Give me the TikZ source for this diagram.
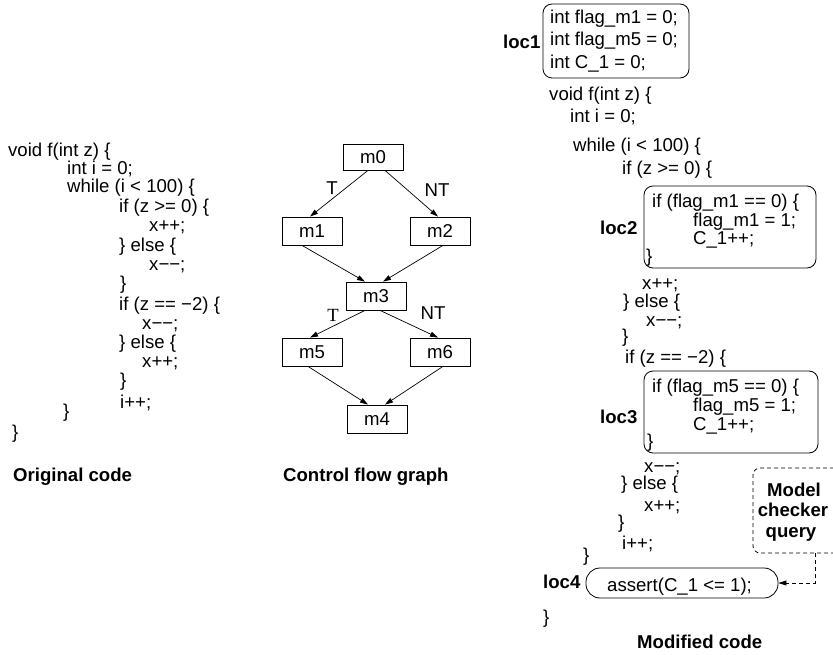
\documentclass[tikz,border=0pt]{standalone}
\usepackage{fontspec}
\setmainfont{Liberation Sans}
\newfontfamily\serifT{Liberation Serif}
\usetikzlibrary{arrows.meta}
\begin{document}
\begin{tikzpicture}[x=1pt,y=-1pt,
  fs/.style={font=\fontsize{18.6}{19}\selectfont},
  code/.style={anchor=base west, inner sep=0pt, fs},
  lbl/.style={anchor=base west, inner sep=0pt, font=\fontsize{18.6}{19}\selectfont\bfseries},
  mcq/.style={anchor=base, inner sep=0pt, font=\fontsize{18.6}{19}\selectfont\bfseries},
  blk/.style={draw, line width=0.8pt, minimum width=60pt, minimum height=28pt, inner sep=0pt, fs},
  elab/.style={inner sep=0pt, fs},
  flow/.style={line width=0.7pt, -{Triangle[length=8pt,width=5pt]}},
  rbox/.style={draw, line width=0.8pt, rounded corners=9pt, inner sep=0pt},
]
\useasboundingbox (0,0) rectangle (833,655);
\clip (0,0) rectangle (833,655);

% ---------- Original code ----------
\node[code] (o1) at (8,157) {void f(int z) \{};
\node[code] (o2) at (67,175) {int i = 0;};
\node[code] (o3) at (67,193) {while (i < 100) \{};
\node[code] (o4) at (119,213) {if (z >= 0) \{};
\node[code] (o5) at (149,232) {x++;};
\node[code] (o6) at (119,252) {\} else \{};
\node[code] (o7) at (149,271) {x−−;};
\node[code] (o8) at (120,290) {\}};
\node[code] (o9) at (119,310) {if (z == −2) \{};
\node[code] (o10) at (142,329) {x−−;};
\node[code] (o11) at (119,348) {\} else \{};
\node[code] (o12) at (142,367) {x++;};
\node[code] (o13) at (120,386) {\}};
\node[code] (o14) at (120,408) {i++;};
\node[code] (o15) at (63,417) {\}};
\node[code] (o16) at (12,438) {\}};
\node[lbl] (lo) at (13,481) {Original code};

% ---------- Control flow graph ----------
\node[blk, minimum height=26pt] (m0) at (373,157) {m0};
\node[blk] (m1) at (312,231) {m1};
\node[blk] (m2) at (440,231) {m2};
\node[blk] (m3) at (376,296) {m3};
\node[blk] (m5) at (312,352) {m5};
\node[blk] (m6) at (440,352) {m6};
\node[blk] (m4) at (377,419) {m4};
\draw[flow] ([xshift=-5pt]m0.south) -- ([xshift=-2pt]m1.north);
\draw[flow] ([xshift=12pt]m0.south) -- ([xshift=-2pt]m2.north);
\draw[flow] ([xshift=-10pt]m1.south) -- ([xshift=-11pt]m3.north);
\draw[flow] ([xshift=3pt]m2.south) -- ([xshift=7pt]m3.north);
\draw[flow] ([xshift=-11pt]m3.south) -- ([xshift=-2pt]m5.north);
\draw[flow] ([xshift=4pt]m3.south) -- ([xshift=-2pt]m6.north);
\draw[flow] ([xshift=-4pt]m5.south) -- ([xshift=-9pt]m4.north);
\draw[flow] ([xshift=3pt]m6.south) -- ([xshift=8pt]m4.north);
\node[elab] (t1) at (332,188) {T};
\node[elab] (nt1) at (437,190) {NT};
\node[inner sep=0pt, font=\serifT\fontsize{18.6}{19}\selectfont] (t2) at (333,315) {T};
\node[elab] (nt2) at (433,313) {NT};
\node[lbl] (lc) at (283,481) {Control flow graph};

% ---------- Modified code ----------
\node[rbox, minimum width=146pt, minimum height=74pt] (b1) at (616,41) {};
\node[lbl] (l1) at (503,49) {loc1};
\node[code] (r1) at (550,24) {int flag\_m1 = 0;};
\node[code] (r2) at (550,46) {int flag\_m5 = 0;};
\node[code] (r3) at (550,69) {int C\_1 = 0;};
\node[code] (r4) at (549,101) {void f(int z) \{};
\node[code] (r5) at (570,123) {int i = 0;};
\node[code] (r6) at (573,152) {while (i < 100) \{};
\node[code] (r7) at (622,175) {if (z >= 0) \{};

\node[rbox, minimum width=172pt, minimum height=82pt] (b2) at (730,227) {};
\node[lbl] (l2) at (600,235) {loc2};
\node[code] (r8) at (652,208) {if (flag\_m1 == 0) \{};
\node[code] (r9) at (693,227) {flag\_m1 = 1;};
\node[code] (r10) at (693,245) {C\_1++;};
\node[code] (r11) at (646,262) {\}};
\node[code] (r12) at (642,290) {x++;};
\node[code] (r13) at (623,308) {\} else \{};
\node[code] (r14) at (646,326) {x−−;};
\node[code] (r15) at (622,342) {\}};
\node[code] (r16) at (625,363) {if (z == −2) \{};

\node[rbox, minimum width=174pt, minimum height=82pt] (b3) at (731,412) {};
\node[lbl] (l3) at (600,423) {loc3};
\node[code] (r17) at (652,392) {if (flag\_m5 == 0) \{};
\node[code] (r18) at (693,411) {flag\_m5 = 1;};
\node[code] (r19) at (693,430) {C\_1++;};
\node[code] (r20) at (647,447) {\}};
\node[code] (r21) at (644,472) {x−−;};
\node[code] (r22) at (621,489) {\} else \{};
\node[code] (r23) at (644,511) {x++;};
\node[code] (r24) at (618,528) {\}};
\node[code] (r25) at (622,549) {i++;};
\node[code] (r26) at (583,561) {\}};

\node[draw, line width=0.8pt, rounded corners=14pt, minimum width=192pt, minimum height=30pt, inner sep=0pt] (b4) at (682,583) {};
\node[lbl] (l4) at (543,588) {loc4};
\node[code] (r27) at (607,591) {assert(C\_1 <= 1);};
\node[code] (r28) at (543,623) {\}};
\node[lbl] (lm) at (637,648) {Modified code};

% ---------- Model checker query ----------
\node[draw, dashed, dash pattern=on 4pt off 3pt, line width=0.8pt, rounded corners=7pt, minimum width=116pt, minimum height=85pt, inner sep=0pt] (q) at (811,510.5) {};
\node[mcq] (q1) at (794,496) {Model};
\node[mcq] (q2) at (793,516) {checker};
\node[mcq] (q3) at (791,537) {query};
\draw[line width=0.8pt, dash pattern=on 4pt off 3pt, -{Triangle[length=8pt,width=5pt]}] ([xshift=4pt]q.south) |- (b4.east);
\end{tikzpicture}
\end{document}
